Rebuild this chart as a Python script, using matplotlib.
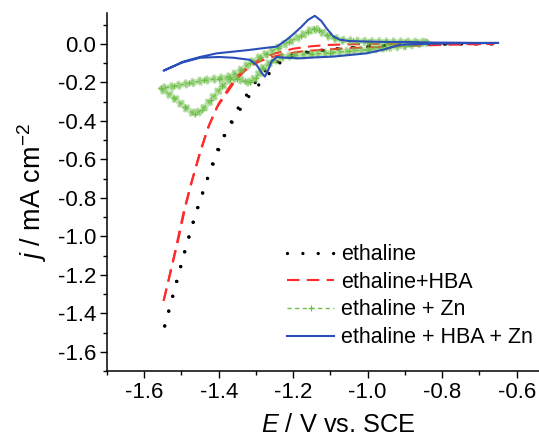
import matplotlib
matplotlib.use("Agg")
import matplotlib.pyplot as plt
from matplotlib.ticker import MultipleLocator

plt.rcParams['font.family'] = ['Liberation Sans', 'DejaVu Sans']
plt.rcParams['mathtext.fontset'] = 'custom'
plt.rcParams['mathtext.rm'] = 'Liberation Sans'
plt.rcParams['mathtext.it'] = 'Liberation Sans:italic'

# ethaline : cathodic sweep then return sweep
eth_x_fwd = [-0.65, -0.75, -0.85, -0.95, -1.05, -1.10, -1.15, -1.20, -1.24, -1.27, -1.294, -1.32,
             -1.347, -1.37, -1.39, -1.41, -1.43, -1.45, -1.47, -1.49, -1.51, -1.53, -1.545]
eth_y_fwd = [0.0, 0.0, -0.003, -0.01, -0.02, -0.028, -0.038, -0.055, -0.09, -0.13, -0.18, -0.25,
             -0.33, -0.42, -0.50, -0.60, -0.70, -0.815, -0.935, -1.07, -1.215, -1.36, -1.466]
eth_x_rev = [-1.545, -1.52, -1.49, -1.46, -1.44, -1.42, -1.40, -1.38, -1.36, -1.339, -1.311, -1.276,
             -1.25, -1.22, -1.19, -1.16, -1.12, -1.08, -1.04, -1.0, -0.95, -0.9, -0.8, -0.7, -0.65]
eth_y_rev = [-1.466, -1.285, -1.07, -0.87, -0.755, -0.64, -0.535, -0.455, -0.395, -0.33, -0.25, -0.18,
             -0.12, -0.075, -0.055, -0.045, -0.035, -0.027, -0.02, -0.014, -0.008, -0.004, 0.0, 0.0, 0.0]

# ethaline + HBA
hba_x_fwd = [-0.66, -0.75, -0.85, -0.95, -1.05, -1.12, -1.18, -1.23, -1.27, -1.30, -1.33, -1.355,
             -1.38, -1.405, -1.43, -1.455, -1.475, -1.495, -1.515, -1.535, -1.548]
hba_y_fwd = [0.0, -0.003, -0.008, -0.015, -0.022, -0.03, -0.04, -0.055, -0.075, -0.10, -0.14, -0.19,
             -0.26, -0.33, -0.44, -0.60, -0.73, -0.88, -1.06, -1.23, -1.335]
hba_x_rev = [-1.548, -1.53, -1.51, -1.49, -1.47, -1.45, -1.425, -1.40, -1.375, -1.35, -1.32, -1.29,
             -1.25, -1.20, -1.15, -1.10, -1.0, -0.9, -0.8, -0.7, -0.66]
hba_y_rev = [-1.335, -1.19, -1.03, -0.85, -0.70, -0.56, -0.42, -0.31, -0.235, -0.165, -0.115, -0.08,
             -0.05, -0.025, -0.012, -0.005, 0.0, 0.0, 0.0, 0.0, 0.0]

# ethaline + Zn
zn_x_fwd = [-0.84, -0.90, -0.95, -1.00, -1.05, -1.10, -1.15, -1.20, -1.23, -1.26, -1.28, -1.30, -1.316,
            -1.33, -1.35, -1.37, -1.39, -1.42, -1.445, -1.465, -1.49, -1.52, -1.555]
zn_y_fwd = [0.008, -0.01, -0.02, -0.03, -0.038, -0.046, -0.053, -0.06, -0.07, -0.095, -0.125, -0.175, -0.2,
            -0.195, -0.18, -0.18, -0.22, -0.29, -0.345, -0.365, -0.33, -0.28, -0.231]
zn_x_rev = [-1.555, -1.52, -1.48, -1.44, -1.40, -1.369, -1.34, -1.316, -1.29, -1.27, -1.24, -1.21, -1.18,
            -1.16, -1.145, -1.13, -1.11, -1.09, -1.07, -1.04, -1.0, -0.95, -0.90, -0.84]
zn_y_rev = [-0.231, -0.22, -0.205, -0.19, -0.18, -0.17, -0.135, -0.10, -0.07, -0.05, -0.02, 0.012, 0.04,
            0.064, 0.08, 0.07, 0.045, 0.03, 0.02, 0.015, 0.012, 0.01, 0.01, 0.008]

# ethaline + HBA + Zn
hz_x_fwd = [-0.65, -0.75, -0.85, -0.914, -0.96, -1.003, -1.05, -1.093, -1.14, -1.182, -1.22, -1.244,
            -1.258, -1.268, -1.276, -1.285, -1.298, -1.316, -1.36, -1.40, -1.45, -1.50, -1.548]
hz_y_fwd = [0.005, 0.004, 0.0, -0.005, -0.031, -0.049, -0.058, -0.066, -0.07, -0.075, -0.072, -0.068,
            -0.09, -0.14, -0.17, -0.15, -0.11, -0.083, -0.072, -0.068, -0.072, -0.098, -0.139]
hz_x_rev = [-1.548, -1.52, -1.495, -1.45, -1.405, -1.36, -1.316, -1.28, -1.244, -1.218, -1.20, -1.18,
            -1.16, -1.142, -1.125, -1.11, -1.093, -1.075, -1.05, -1.0, -0.95, -0.9, -0.825, -0.75, -0.70, -0.65]
hz_y_rev = [-0.139, -0.115, -0.092, -0.068, -0.049, -0.04, -0.031, -0.022, -0.014, 0.021, 0.05, 0.085,
            0.125, 0.146, 0.12, 0.08, 0.04, 0.022, 0.015, 0.012, 0.01, 0.01, 0.007, 0.006, 0.005, 0.005]

labels = ['ethaline', 'ethaline+HBA', 'ethaline + Zn', 'ethaline + HBA + Zn']

green = '#6fbf4a'
blue = '#2a4fb8'
red = '#ff2a2a'

fig = plt.figure(figsize=(5.39, 4.37), dpi=100)
ax = fig.add_axes([0.1985, 0.151, 0.8015, 0.819])

# ethaline (black dotted); both sweeps drawn from the switching point so the
# dots coincide where the sweeps overlap and pair up where they split
dot_style = dict(color='black', lw=2.4, dashes=(0.01, 4.6), dash_capstyle='round')
ax.plot(eth_x_fwd[::-1], eth_y_fwd[::-1], label=labels[0], **dot_style)
ax.plot(eth_x_rev, eth_y_rev, **dot_style)

# ethaline + HBA (red dashed)
dash_style = dict(color=red, lw=1.5, dashes=(6, 3.5))
ax.plot(hba_x_fwd[::-1], hba_y_fwd[::-1], label=labels[1], **dash_style)
ax.plot(hba_x_rev, hba_y_rev, **dash_style)

# ethaline + Zn (green, dense markers -> thick fuzzy trace)
zx = zn_x_fwd + zn_x_rev
zy = zn_y_fwd + zn_y_rev
ax.plot(zx, zy, color=green, lw=4.0, alpha=0.45, solid_capstyle='round')
ax.plot(zx, zy, color=green, lw=6.5, alpha=0.5, dashes=(0.35, 0.45))
ax.plot(zx, zy, color=green, lw=1.0, ls=(0, (3, 2.5)), marker='+', ms=4, mew=0.9,
        label=labels[2])

# ethaline + HBA + Zn (blue solid)
ax.plot(hz_x_fwd + hz_x_rev, hz_y_fwd + hz_y_rev, color=blue, lw=1.5, label=labels[3])

ax.set_xlim(-1.7, -0.54)
ax.set_ylim(-1.7, 0.16)
ax.xaxis.set_major_locator(MultipleLocator(0.2))
ax.xaxis.set_minor_locator(MultipleLocator(0.1))
ax.yaxis.set_major_locator(MultipleLocator(0.2))
ax.yaxis.set_minor_locator(MultipleLocator(0.1))
ax.xaxis.set_major_formatter(plt.FuncFormatter(lambda v, p: f'{v:.1f}'))
ax.yaxis.set_major_formatter(plt.FuncFormatter(lambda v, p: f'{v:.1f}'))

for s in ['top', 'right']:
    ax.spines[s].set_visible(False)
for s in ['left', 'bottom']:
    ax.spines[s].set_linewidth(1.1)
ax.tick_params(which='major', direction='out', length=5, width=1.0, labelsize=16, pad=3)
ax.tick_params(which='minor', direction='out', length=3, width=1.0)

ax.set_xlabel('$E$ / V vs. SCE', fontsize=18.3)
ax.set_ylabel('$j$ / mA cm$^{-2}$', fontsize=19.5, labelpad=6)
ax.xaxis.set_label_coords(0.535, -0.117)

leg = ax.legend(loc='lower left', bbox_to_anchor=(0.397, 0.04), frameon=False, fontsize=15.5,
                handlelength=2.2, handletextpad=0.3, labelspacing=0.31, borderaxespad=0,
                numpoints=1)

fig.savefig('out.png', dpi=100)
